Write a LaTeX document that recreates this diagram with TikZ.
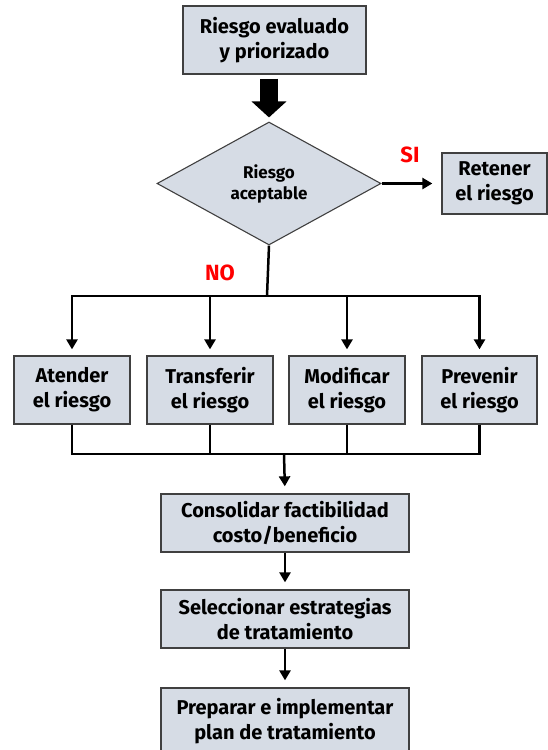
\documentclass[tikz,border=0pt]{standalone}
\usepackage{fontspec}
\setmainfont{Fira Sans}
\usetikzlibrary{shapes,arrows.meta}
\definecolor{boxfill}{HTML}{D6DCE5}
\definecolor{boxline}{HTML}{404040}
\begin{document}
\begin{tikzpicture}[
      x=1pt,y=-1pt,
      box/.style={rectangle,draw=boxline,line width=1.3pt,fill=boxfill,align=center,inner sep=0pt,
        font=\fontsize{20}{25}\selectfont\bfseries},
      decision/.style={diamond,draw=boxline,line width=1.1pt,fill=boxfill,align=center,inner sep=0pt,
        minimum width=224pt,minimum height=123pt,font=\fontsize{17}{21}\selectfont\bfseries},
      answer/.style={text=red,font=\fontsize{22}{24}\selectfont\bfseries},
      line/.style={line width=2.5pt,draw=black},
      pointer/.style={line width=2.5pt,shorten >=6pt,-{Triangle[width=11pt,length=10pt]},draw=black},
      bigpointer/.style={line width=18pt,shorten <=4pt,shorten >=4pt,-{Triangle[width=34pt,length=16pt]},draw=black}
      ]
      \useasboundingbox (0,0) rectangle (548,750);
      \clip (0,0) rectangle (548,750);
      \node[box,minimum width=183pt,minimum height=68pt] (eval) at (274.5,40) {Riesgo evaluado\\y priorizado};
      \node[decision] (acept) at (269,183.5) {Riesgo\\aceptable};
      \node[box,minimum width=105pt,minimum height=61pt] (ret) at (494.5,183.5) {Retener\\el riesgo};
      % opciones de tratamiento
      \node[box,minimum width=116pt,minimum height=68pt] (aten) at (72,390) {Atender\\el riesgo};
      \node[box,minimum width=126pt,minimum height=68pt] (trans) at (210,390) {Transferir\\el riesgo};
      \node[box,minimum width=116pt,minimum height=68pt] (modif) at (347,390) {Modificar\\el riesgo};
      \node[box,minimum width=115pt,minimum height=68pt] (prev) at (479.5,390) {Prevenir\\el riesgo};
      \node[box,minimum width=248pt,minimum height=58pt] (cons) at (285,523) {Consolidar factibilidad\\costo/beneficio};
      \node[box,minimum width=248pt,minimum height=58pt] (sel) at (285,619) {Seleccionar estrategias\\de tratamiento};
      \node[box,minimum width=248pt,minimum height=66pt] (prep) at (285,721) {Preparar e implementar\\plan de tratamiento};
      \node[answer] (si) at (410,155) {SI};
      \node[answer] (no) at (220,273) {NO};
      \coordinate (bus) at (267,296);
      \coordinate (join) at (284,454);
      \path (eval.south -| acept.north) edge [bigpointer] (acept.north);
      \path (acept.east) edge [pointer,shorten >=9pt] (ret.west);
      \draw[line] (acept.south) -- (bus);
      \foreach \n in {aten,trans,modif,prev}
        \draw[pointer] (bus) -| (\n.north);
      \foreach \n in {aten,trans,modif,prev}
        \draw[line] (\n.south) |- (join);
      \path (join) edge [pointer,shorten >=7pt] (cons.north);
      \path (cons.south) edge [pointer,shorten >=7pt] (sel.north);
      \path (sel.south) edge [pointer,shorten >=7pt] (prep.north);
    \end{tikzpicture}
\end{document}
